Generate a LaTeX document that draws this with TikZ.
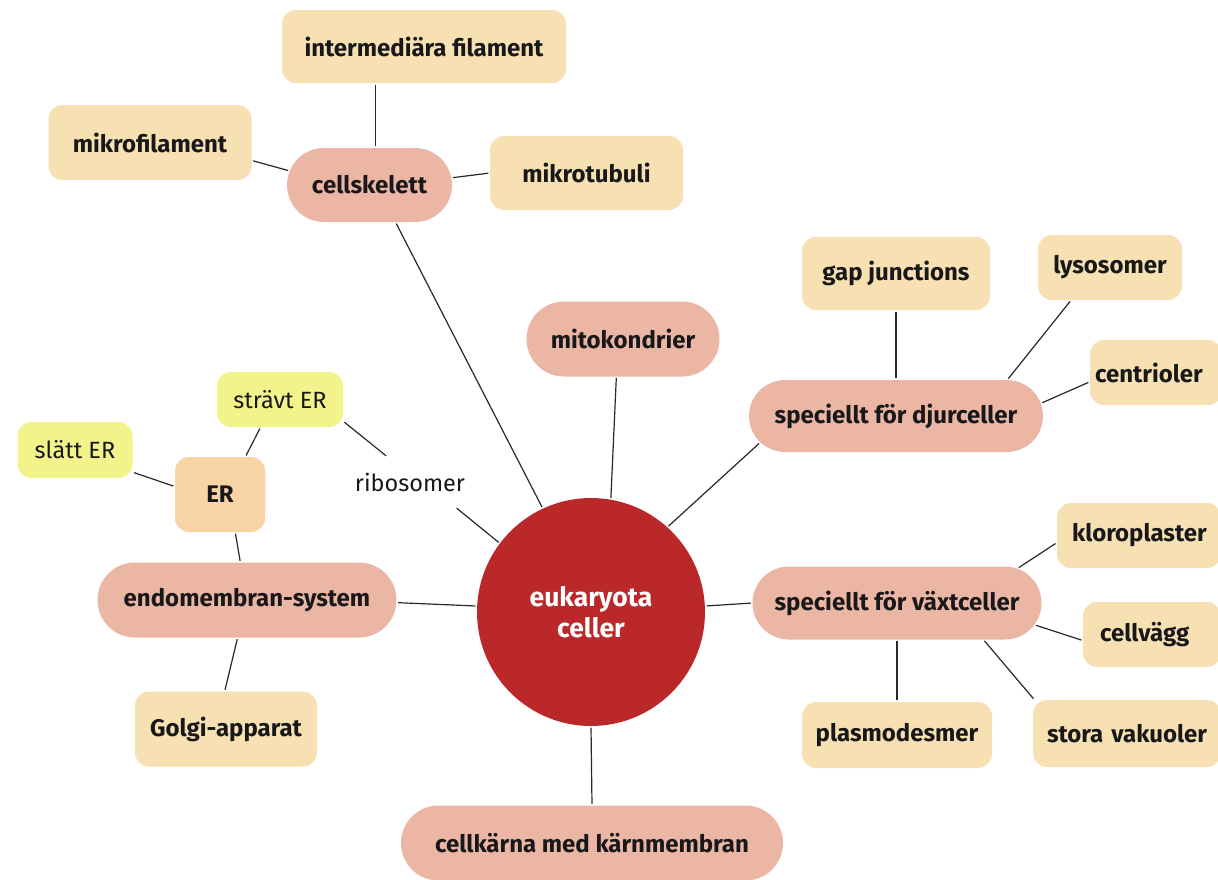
\documentclass[tikz,border=0pt]{standalone}
\usepackage{fontspec}
\setmainfont{Fira Sans}
\usetikzlibrary{shapes.misc}
\definecolor{pillc}{RGB}{236,182,164}
\definecolor{boxc}{RGB}{247,225,178}
\definecolor{erc}{RGB}{247,211,166}
\definecolor{yelc}{RGB}{243,243,140}
\definecolor{redc}{RGB}{186,40,42}
\definecolor{txt}{RGB}{24,24,26}
\definecolor{linec}{RGB}{40,40,40}
\begin{document}
\begin{tikzpicture}[x=1pt,y=-1pt,
  base/.style={font=\fontsize{24}{28}\selectfont\bfseries, text=txt, inner sep=0pt},
  light/.style={font=\fontsize{23.5}{28}\selectfont},
  pill/.style={base, rounded rectangle, fill=pillc},
  box/.style={base, rectangle, rounded corners=14pt, fill=boxc},
  link/.style={draw=linec, line width=1.2pt, shorten <=1.5pt, shorten >=1.5pt}]
\useasboundingbox (0,0) rectangle (1218,879);
\fill[white] (0,0) rectangle (1218,879);

% centre
\node[base, font=\fontsize{26.5}{29}\selectfont\bfseries, circle, fill=redc, minimum size=228pt, text=white, align=center] (cell) at (591,612) {eukaryota\\[2pt]celler};

% pills
\node[pill, minimum width=165pt, minimum height=74pt] (cs) at (369.5,185) {cellskelett};
\node[pill, minimum width=193pt, minimum height=75pt] (mito) at (623,339) {mitokondrier};
\node[pill, minimum width=294pt, minimum height=72pt] (djur) at (896,416) {speciellt för djurceller};
\node[pill, minimum width=289pt, minimum height=73pt] (vaxt) at (897,603) {speciellt för växtceller};
\node[pill, minimum width=299pt, minimum height=75pt] (endo) at (247,600) {endomembran-system};
\node[pill, minimum width=382pt, minimum height=75pt] (karna) at (592,843) {cellkärna med kärnmembran};

% boxes
\node[box, minimum width=284pt, minimum height=73pt] (inter) at (424,46.5) {intermediära filament};
\node[box, minimum width=203pt, minimum height=75pt] (mf) at (150,142.5) {mikrofilament};
\node[box, minimum width=193pt, minimum height=74pt] (mt) at (586.5,173) {mikrotubuli};
\node[box, minimum width=188pt, minimum height=73pt] (gap) at (896,273.5) {gap junctions};
\node[box, minimum width=144pt, minimum height=65pt] (lyso) at (1110,267.5) {lysosomer};
\node[box, minimum width=132pt, minimum height=65pt, text width=132pt, align=left] (cent) at (1156,372.5) {\hspace*{5pt}centrioler};
\node[box, minimum width=164pt, minimum height=65pt, text width=164pt, align=left] (klor) at (1139,535.5) {\hspace*{15pt}kloroplaster};
\node[box, minimum width=138pt, minimum height=65pt, text width=138pt, align=left] (cellv) at (1152,634.5) {\hspace*{17pt}cellvägg};
\node[box, minimum width=190pt, minimum height=66pt] (plasmo) at (897,735) {plasmodesmer};
\node[box, minimum width=188pt, minimum height=67pt, text width=188pt, align=left] (vak) at (1127,733.5) {\hspace*{14pt}stora vakuoler};
\node[box, minimum width=182pt, minimum height=75pt] (golgi) at (226,729) {Golgi-apparat};
\node[box, fill=erc, minimum width=90pt, minimum height=75pt] (er) at (220,494.5) {ER};
\node[box, light, fill=yelc, minimum width=126pt, minimum height=55pt] (strav) at (280,399.5) {strävt ER};
\node[box, light, fill=yelc, minimum width=115pt, minimum height=56pt] (slatt) at (75,450) {slätt ER};
\node[base, light, minimum width=130pt, minimum height=50pt] (ribo) at (410,482) {ribosomer};

% connectors
\draw[link] (inter.south -| cs.81.5) -- (cs.81.5);
\draw[link] (mf.-10.7) -- (cs.170.9);
\draw[link] (cs.5.9) -- (mt.west);
\draw[link] (cs.-55.2) -- (cell.115.2);
\draw[link] (mito.-100) -- (cell.80);
\draw[link] (djur.-169) -- (cell.48.5);
\draw[link] (gap.south) -- (gap.south |- djur.north);
\draw[link] (lyso.-140.5) -- (djur.18.6);
\draw[link] (cent.-172.9) -- (djur.5.1);
\draw[link] (vaxt.west) -- (cell.3);
\draw[link] (klor.-175.6) -- (vaxt.16.9);
\draw[link] (cellv.-175.5) -- (vaxt.-9.7);
\draw[link] (vak.160.7) -- (vaxt.-23.4);
\draw[link] (vaxt.south) -- (plasmo.north);
\draw[link] (cell.south) -- (karna.north);
\draw[link] (endo.-1.1) -- (cell.177.5);
\draw[link] (endo.100) -- (er.-68);
\draw[link] (endo.-104) -- (golgi.92);
\draw[link] (er.170.5) -- (slatt.-21);
\draw[link] (er.56.3) -- (strav.-125);
\draw[link] (strav.-19.7) -- (ribo.132.6);
\draw[link] (ribo.-29.6) -- (cell.143);
\end{tikzpicture}
\end{document}
